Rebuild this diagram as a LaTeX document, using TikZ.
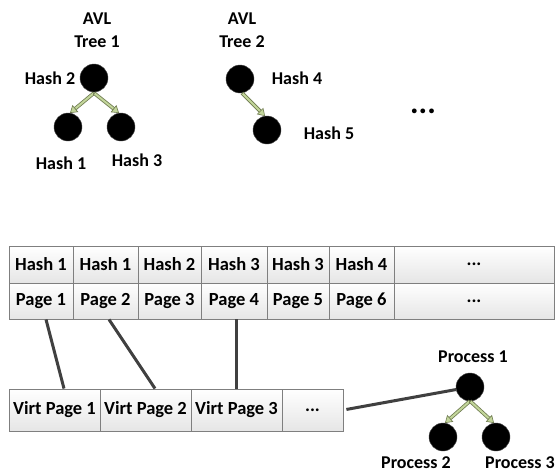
\documentclass[tikz,border=0pt]{standalone}
\usepackage{fontspec}
\setmainfont{Carlito}
\usetikzlibrary{arrows.meta,calc}
\definecolor{cellline}{HTML}{7F7F7F}
\definecolor{linkcol}{HTML}{404040}
\definecolor{arrfill}{HTML}{C3D69B}
\definecolor{arrdraw}{HTML}{6F7B50}
\tikzset{
  lbl/.style={font=\fontsize{18}{23}\selectfont\bfseries, inner sep=0pt, align=center},
  cell/.style={draw=cellline, line width=0.9pt, top color=white, bottom color=black!10,
    inner sep=0pt, font=\fontsize{18.5}{20}\selectfont\bfseries},
  dot/.style={circle, fill=black, draw=black!70, minimum size=28pt, inner sep=0pt},
  link/.style={draw=linkcol, line width=3pt},
}
\newcommand{\blockarrow}[2]{%
  \draw[arrdraw, line width=3.6pt, shorten >=6pt] (#1) -- (#2);
  \draw[arrfill, line width=2pt, shorten >=6pt, shorten <=0.9pt] (#1) -- (#2);
  \draw[draw=arrdraw, line width=0.6pt, -{Triangle[length=7pt,width=9pt,fill=arrfill]}] ($(#2)!7pt!(#1)$) -- (#2);
}
\begin{document}
\begin{tikzpicture}[x=1pt,y=-1pt]
\useasboundingbox[fill=white] (0,0) rectangle (560,474);
% AVL tree 1
\node[lbl] (t1) at (97,30) {AVL\\Tree 1};
\node[dot] (h2) at (94,78) {};
\node[dot] (h1) at (68,127) {};
\node[dot] (h3) at (121,127) {};
\node[lbl] (lh2) at (50,78) {Hash 2};
\node[lbl] (lh1) at (61,163) {Hash 1};
\node[lbl] (lh3) at (137,160) {Hash 3};
\coordinate (h2b) at ($(h2.center)+(0,15)$);
\coordinate (h1t) at ($(h1.center)+(2,-14)$);
\coordinate (h3t) at ($(h3.center)+(-2,-14)$);
\blockarrow{h2b}{h1t}
\blockarrow{h2b}{h3t}
% AVL tree 2
\node[lbl] (t2) at (242,30) {AVL\\Tree 2};
\node[dot] (h4) at (240,79) {};
\node[dot] (h5) at (267,130) {};
\node[lbl] (lh4) at (297,78) {Hash 4};
\node[lbl] (lh5) at (329,133) {Hash 5};
\coordinate (h4b) at ($(h4.center)+(2,14)$);
\coordinate (h5t) at ($(h5.center)+(-2,-14)$);
\blockarrow{h4b}{h5t}
\node[inner sep=0pt, font=\fontsize{32}{34}\selectfont\bfseries] (dots) at (423,111) {...};
% table
\node[cell, minimum width=64pt, minimum height=37pt] (a1) at (41,264.5) {Hash 1};
\node[cell, minimum width=65pt, minimum height=37pt] (a2) at (105.5,264.5) {Hash 1};
\node[cell, minimum width=63pt, minimum height=37pt] (a3) at (169.5,264.5) {Hash 2};
\node[cell, minimum width=66pt, minimum height=37pt] (a4) at (234,264.5) {Hash 3};
\node[cell, minimum width=62pt, minimum height=37pt] (a5) at (298,264.5) {Hash 3};
\node[cell, minimum width=65pt, minimum height=37pt] (a6) at (361.5,264.5) {Hash 4};
\node[cell, minimum width=160pt, minimum height=37pt] (a7) at (474,264.5) {...};
\node[cell, minimum width=64pt, minimum height=36pt] (p1) at (41,301) {Page 1};
\node[cell, minimum width=65pt, minimum height=36pt] (p2) at (105.5,301) {Page 2};
\node[cell, minimum width=63pt, minimum height=36pt] (p3) at (169.5,301) {Page 3};
\node[cell, minimum width=66pt, minimum height=36pt] (p4) at (234,301) {Page 4};
\node[cell, minimum width=62pt, minimum height=36pt] (p5) at (298,301) {Page 5};
\node[cell, minimum width=65pt, minimum height=36pt] (p6) at (361.5,301) {Page 6};
\node[cell, minimum width=160pt, minimum height=36pt] (p7) at (474,301) {...};
% virtual pages
\node[cell, minimum width=91pt, minimum height=42pt] (v1) at (54.5,410) {Virt Page 1};
\node[cell, minimum width=91pt, minimum height=42pt] (v2) at (145.5,410) {Virt Page 2};
\node[cell, minimum width=91pt, minimum height=42pt] (v3) at (236.5,410) {Virt Page 3};
\node[cell, minimum width=61pt, minimum height=42pt] (v4) at (312.5,410) {...};
% links
\draw[link] ([xshift=5pt]p1.south) -- ([xshift=9.5pt]v1.north);
\draw[link] ([xshift=3.5pt]p2.south) -- ([xshift=9.5pt]v2.north);
\draw[link] ([xshift=2.5pt]p4.south) -- ([xshift=0pt]v3.north);
% process tree
\node[dot] (pr1) at (470,387) {};
\node[dot] (pr2) at (443,437) {};
\node[dot] (pr3) at (496,437) {};
\node[lbl] (lpr1) at (473,357) {Process 1};
\node[lbl] (lpr2) at (416,463) {Process 2};
\node[lbl] (lpr3) at (520,463) {Process 3};
\draw[link, shorten <=3pt] (v4.east) -- (pr1);
\coordinate (pr1b) at ($(pr1.center)+(0,14)$);
\coordinate (pr2t) at ($(pr2.center)+(2,-14)$);
\coordinate (pr3t) at ($(pr3.center)+(-2,-14)$);
\blockarrow{pr1b}{pr2t}
\blockarrow{pr1b}{pr3t}
\end{tikzpicture}
\end{document}
